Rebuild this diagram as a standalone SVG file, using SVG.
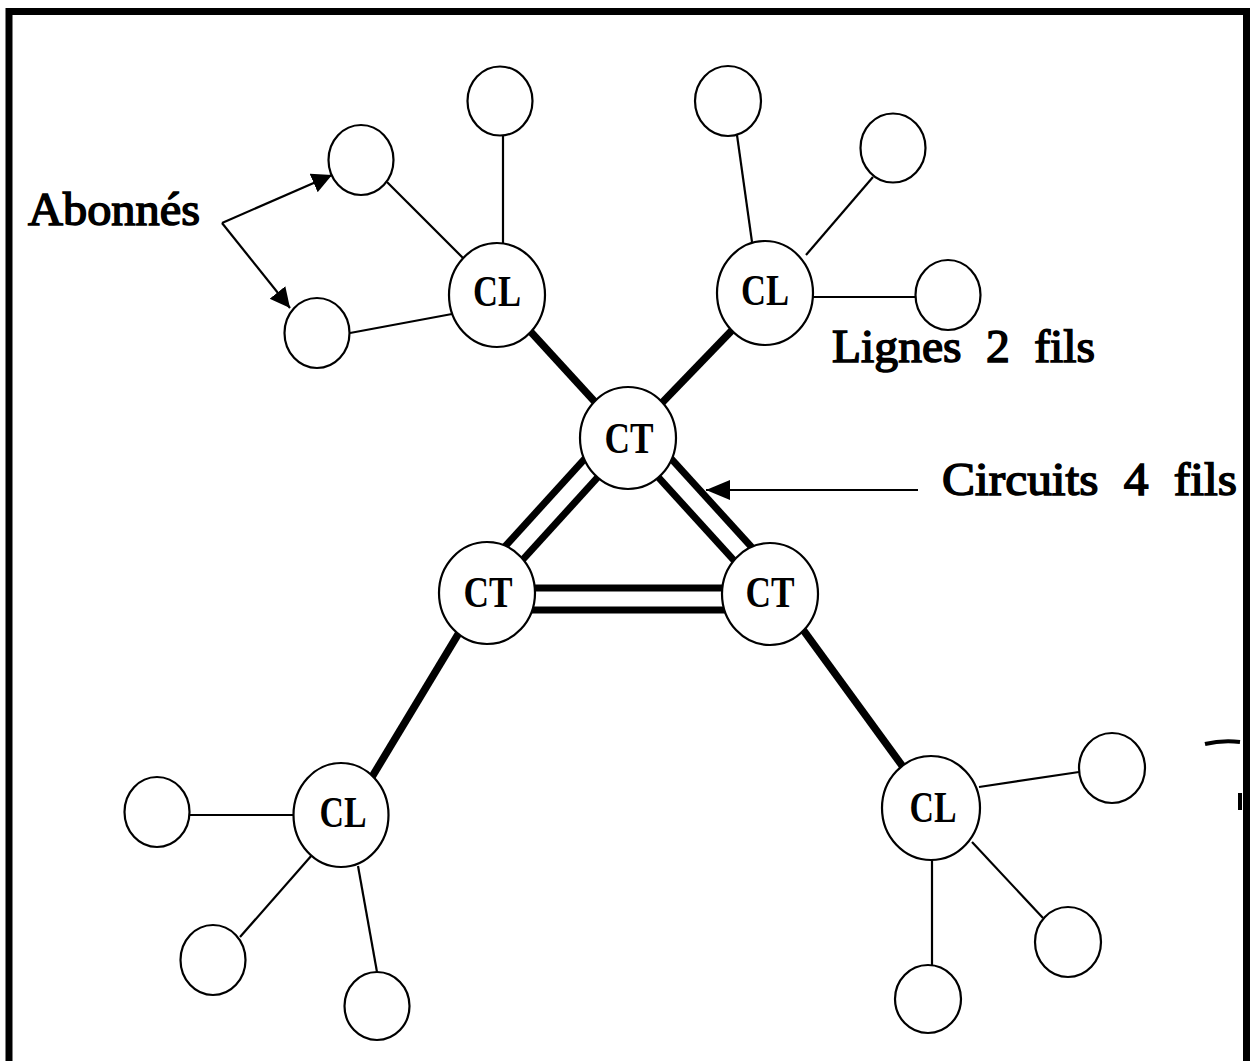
<svg xmlns="http://www.w3.org/2000/svg" width="1253" height="1061" viewBox="0 0 1253 1061">
<defs>
<style>
.frame{fill:none;stroke:#000;stroke-width:7}
.thin{stroke:#000;stroke-width:2.2;fill:none}
.thick{stroke:#000;stroke-width:7.5;fill:none}
.dbl{stroke:#000;stroke-width:7;fill:none}
.node{fill:#fff;stroke:#000;stroke-width:2.2}
.lbl{font-family:"Liberation Serif","Times New Roman",serif;font-weight:bold;font-size:44px;fill:#000;text-anchor:middle}
.ann{font-family:"Liberation Serif","Times New Roman",serif;font-weight:normal;font-size:46px;fill:#000;stroke:#000;stroke-width:1.5;word-spacing:12px}
</style>
<marker id="ah" markerWidth="22" markerHeight="22" refX="20" refY="10" orient="auto" markerUnits="userSpaceOnUse">
<path d="M0,0 L20,10 L0,20 z" fill="#000"/>
</marker>
<marker id="ah2" markerWidth="26" markerHeight="22" refX="24" refY="10" orient="auto" markerUnits="userSpaceOnUse">
<path d="M0,0 L24,10 L0,20 z" fill="#000"/>
</marker>
</defs>
<rect width="1253" height="1061" fill="#fff"/>
<path class="frame" d="M9,1061 V11.5 H1246.5 V1061"/>
<g id="marks" fill="none" stroke="#000">
<path d="M1205,744 Q1222,740 1240,742" stroke-width="4"/>
<line x1="1240" y1="793" x2="1240" y2="810" stroke-width="4"/>
</g>
<g id="connectors">
<line class="thin" x1="503" y1="135" x2="503" y2="243"/>
<line class="thin" x1="387" y1="182" x2="463" y2="258"/>
<line class="thin" x1="350" y1="333" x2="452" y2="314"/>
<line class="thin" x1="737" y1="135" x2="752" y2="242"/>
<line class="thin" x1="873" y1="177" x2="806" y2="255"/>
<line class="thin" x1="813" y1="297" x2="916" y2="297"/>
<line class="thin" x1="190" y1="815" x2="294" y2="815"/>
<line class="thin" x1="240" y1="937" x2="312" y2="855"/>
<line class="thin" x1="358" y1="866" x2="377" y2="972"/>
<line class="thin" x1="979" y1="787" x2="1079" y2="772"/>
<line class="thin" x1="972" y1="842" x2="1043" y2="918"/>
<line class="thin" x1="932" y1="860" x2="932" y2="965"/>
<line class="thick" x1="497" y1="295" x2="628" y2="438"/>
<line class="thick" x1="765" y1="296" x2="628" y2="438"/>
<line class="thick" x1="483" y1="593" x2="349" y2="815"/>
<line class="thick" x1="777" y1="594" x2="933" y2="808"/>
<line class="dbl" x1="614.7" y1="425.9" x2="473.7" y2="580.9"/>
<line class="dbl" x1="631" y1="440.7" x2="490" y2="595.7"/>
<line class="dbl" x1="641.3" y1="425.9" x2="783.3" y2="581.9"/>
<line class="dbl" x1="625" y1="440.7" x2="767" y2="596.7"/>
<line class="dbl" x1="487" y1="588" x2="770" y2="588"/>
<line class="dbl" x1="487" y1="610" x2="770" y2="610"/>
</g>
<g id="cl-top-left">
<ellipse class="node" cx="497" cy="295" rx="48" ry="52"/>
<text class="lbl" x="497" y="306" textLength="48" lengthAdjust="spacingAndGlyphs">CL</text>
</g>
<g id="ab-tl-1"><ellipse class="node" cx="500" cy="101" rx="32.5" ry="34.5"/></g>
<g id="ab-tl-2"><ellipse class="node" cx="361" cy="160" rx="32.5" ry="35"/></g>
<g id="ab-tl-3"><ellipse class="node" cx="317" cy="333" rx="32.5" ry="35"/></g>
<g id="cl-top-right">
<ellipse class="node" cx="765" cy="293" rx="48" ry="52"/>
<text class="lbl" x="765" y="305" textLength="48" lengthAdjust="spacingAndGlyphs">CL</text>
</g>
<g id="ab-tr-1"><ellipse class="node" cx="728" cy="101" rx="33" ry="35"/></g>
<g id="ab-tr-2"><ellipse class="node" cx="893" cy="148" rx="32.5" ry="34.5"/></g>
<g id="ab-tr-3"><ellipse class="node" cx="948" cy="295" rx="32.5" ry="35"/></g>
<g id="ct-top">
<ellipse class="node" cx="628" cy="438" rx="48" ry="51"/>
<text class="lbl" x="629" y="453" textLength="49" lengthAdjust="spacingAndGlyphs">CT</text>
</g>
<g id="ct-left">
<ellipse class="node" cx="487" cy="593" rx="48" ry="51"/>
<text class="lbl" x="488" y="607" textLength="49" lengthAdjust="spacingAndGlyphs">CT</text>
</g>
<g id="ct-right">
<ellipse class="node" cx="770" cy="594" rx="48" ry="51"/>
<text class="lbl" x="770" y="607" textLength="49" lengthAdjust="spacingAndGlyphs">CT</text>
</g>
<g id="cl-bottom-left">
<ellipse class="node" cx="341" cy="815" rx="47.5" ry="52"/>
<text class="lbl" x="343" y="827" textLength="47" lengthAdjust="spacingAndGlyphs">CL</text>
</g>
<g id="ab-bl-1"><ellipse class="node" cx="157" cy="812" rx="32.5" ry="35"/></g>
<g id="ab-bl-2"><ellipse class="node" cx="213" cy="960" rx="32.5" ry="35"/></g>
<g id="ab-bl-3"><ellipse class="node" cx="377" cy="1006" rx="32.5" ry="34"/></g>
<g id="cl-bottom-right">
<ellipse class="node" cx="931" cy="808" rx="49" ry="52"/>
<text class="lbl" x="933" y="822" textLength="47" lengthAdjust="spacingAndGlyphs">CL</text>
</g>
<g id="ab-br-1"><ellipse class="node" cx="1112" cy="768" rx="33" ry="35"/></g>
<g id="ab-br-2"><ellipse class="node" cx="1068" cy="942" rx="33" ry="35"/></g>
<g id="ab-br-3"><ellipse class="node" cx="928" cy="999" rx="33" ry="34"/></g>
<g id="annotations">
<line class="thin" x1="222" y1="223" x2="332" y2="175" marker-end="url(#ah)"/>
<line class="thin" x1="222" y1="223" x2="290" y2="308" marker-end="url(#ah)"/>
<line class="thin" x1="918" y1="490" x2="706" y2="490" marker-end="url(#ah2)"/>
<text class="ann" x="28" y="225" textLength="172" lengthAdjust="spacingAndGlyphs">Abonnés</text>
<text class="ann" x="832" y="362" textLength="263" lengthAdjust="spacingAndGlyphs">Lignes 2 fils</text>
<text class="ann" x="942" y="495" textLength="295" lengthAdjust="spacingAndGlyphs">Circuits 4 fils</text>
</g>
</svg>
